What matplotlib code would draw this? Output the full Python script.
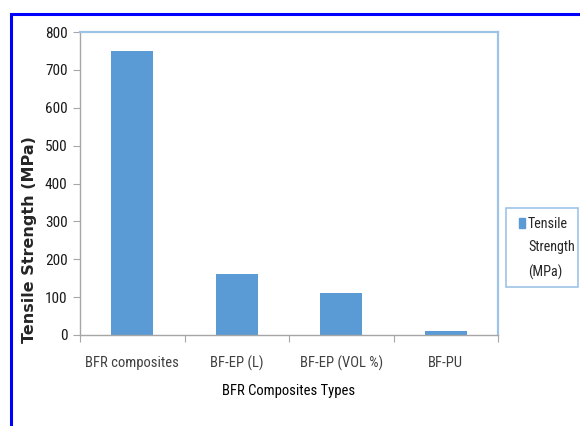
import matplotlib
matplotlib.use("Agg")
import matplotlib.pyplot as plt
from matplotlib.patches import Rectangle
import numpy as np

# Tensile strength of the BFR composite types (MPa)
categories = ["BFR composites", "BF-EP (L)", "BF-EP (VOL %)", "BF-PU"]
strength = [750, 160, 112, 10]
yticks = [0, 100, 200, 300, 400, 500, 600, 700, 800]

narrow = ["Liberation Sans Narrow", "Roboto Condensed", "DejaVu Sans"]
bar_color = "#5B9BD5"
axis_gray = "#A6A6A6"
frame_blue = "#9DC3E6"

fig = plt.figure(figsize=(5.8, 4.26), dpi=100)
ax = fig.add_axes([80 / 580, 91 / 426, 418 / 580, 303 / 426])

x = np.arange(len(categories))
ax.bar(x, strength, width=0.4, color=bar_color, zorder=2)

ax.set_xlim(-0.5, len(categories) - 0.5)
ax.set_ylim(0, 800)
ax.set_yticks(yticks)
ax.set_yticklabels([str(v) for v in yticks], family=narrow, stretch="condensed",
                   fontsize=11)

# category boundaries get the tick marks, centres get the labels
ax.set_xticks(np.arange(len(categories) + 1) - 0.5)
ax.set_xticklabels([])
ax.set_xticks(x, minor=True)
ax.set_xticklabels(categories, minor=True, family=narrow, stretch="condensed",
                   fontsize=10.5, color="#404040")
ax.tick_params(axis="x", which="major", length=5, color=axis_gray)
ax.tick_params(axis="x", which="minor", length=0, pad=15)
ax.tick_params(axis="y", length=5, color=axis_gray, pad=4, labelcolor="#1a1a1a")

for side in ("left", "bottom"):
    ax.spines[side].set_color(axis_gray)
    ax.spines[side].set_linewidth(1.0)
for side in ("top", "right"):
    ax.spines[side].set_color(frame_blue)
    ax.spines[side].set_linewidth(1.6)

ax.set_xlabel("BFR Composites Types", family=narrow, stretch="condensed",
              fontsize=10.5, labelpad=9)
ax.set_ylabel("Tensile Strength (MPa)", family="DejaVu Sans", fontweight="bold",
              fontsize=11.5, color="#262626")
ax.yaxis.set_label_coords(-0.103, 0.315)

# legend box drawn by hand so the marker sits on the first line
fig.patches.append(Rectangle((506 / 580, 139 / 426), 72 / 580, 79 / 426,
                             transform=fig.transFigure, fill=False,
                             edgecolor=frame_blue, linewidth=1.2))
fig.patches.append(Rectangle((519 / 580, 198 / 426), 6 / 580, 10 / 426,
                             transform=fig.transFigure, color=bar_color))
fig.text(528 / 580, 209 / 426, "Tensile\nStrength\n(MPa)", family=narrow,
         stretch="condensed", fontsize=10.2, va="top", ha="left",
         linespacing=1.85, color="#262626")

# outer frame of the figure
fig.patches.append(Rectangle((11 / 580, -0.2), 1.2, (426 - 14) / 426 + 0.2,
                             transform=fig.transFigure, fill=False,
                             edgecolor="#0000FF", linewidth=2.2))

fig.savefig("out.png", dpi=100)
